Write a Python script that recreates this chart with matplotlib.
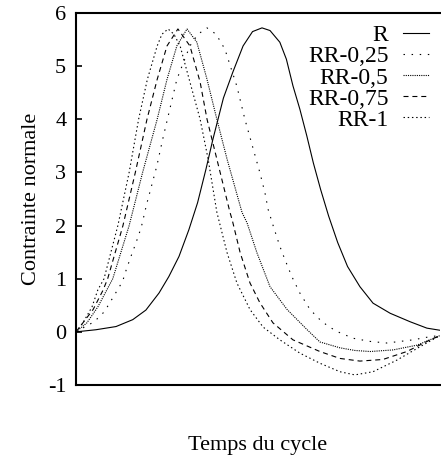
import matplotlib
matplotlib.use("Agg")
import matplotlib.pyplot as plt

plt.rcParams['font.family'] = ['Liberation Serif', 'DejaVu Serif']
plt.rcParams['axes.unicode_minus'] = False

# courbes (temps du cycle normalise 0..1)
x_r = [0, 0.055, 0.110, 0.156, 0.192, 0.228, 0.255, 0.283, 0.310, 0.334, 0.357, 0.376,
       0.405, 0.431, 0.459, 0.485, 0.511, 0.533, 0.56, 0.578, 0.596, 0.615, 0.634, 0.652,
       0.672, 0.694, 0.719, 0.746, 0.78, 0.816, 0.863, 0.918, 0.964, 1.0]
y_r = [0, 0.04, 0.10, 0.23, 0.41, 0.73, 1.04, 1.42, 1.92, 2.43, 3.06, 3.62,
       4.40, 4.89, 5.38, 5.65, 5.72, 5.67, 5.45, 5.13, 4.63, 4.19, 3.69, 3.18,
       2.68, 2.18, 1.68, 1.23, 0.85, 0.54, 0.35, 0.19, 0.07, 0.03]

x_rr025 = [0, 0.018, 0.050, 0.078, 0.101, 0.128, 0.139, 0.151, 0.165, 0.179, 0.194, 0.203,
           0.222, 0.238, 0.277, 0.313, 0.335, 0.360, 0.385, 0.409, 0.442, 0.464, 0.505,
           0.519, 0.528, 0.542, 0.560, 0.574, 0.593, 0.615, 0.643, 0.670, 0.690, 0.716,
           0.761, 0.808, 0.854, 0.926, 0.973, 1.0]
y_rr025 = [0, 0.07, 0.19, 0.38, 0.64, 0.95, 1.19, 1.42, 1.68, 1.96, 2.40, 2.63,
           3.12, 3.62, 4.75, 5.38, 5.6, 5.72, 5.6, 5.32, 4.62, 4.0, 3.0,
           2.62, 2.3, 1.99, 1.61, 1.36, 1.04, 0.73, 0.42, 0.23, 0.12, 0.01,
           -0.12, -0.18, -0.21, -0.15, -0.09, -0.07]

x_rr05 = [0, 0.030, 0.060, 0.101, 0.146, 0.183, 0.223, 0.250, 0.277, 0.305, 0.332,
          0.360, 0.387, 0.415, 0.456, 0.470, 0.497, 0.533, 0.580, 0.635, 0.670, 0.725,
          0.766, 0.808, 0.871, 0.937, 1.0]
y_rr05 = [0, 0.17, 0.47, 1.0, 2.0, 3.0, 4.0, 4.75, 5.38, 5.70, 5.45,
          4.75, 4.0, 3.25, 2.25, 2.05, 1.49, 0.85, 0.42, 0.04, -0.19, -0.30,
          -0.35, -0.37, -0.34, -0.25, -0.07]

x_rr075 = [0, 0.019, 0.047, 0.074, 0.087, 0.129, 0.163, 0.195, 0.223, 0.250, 0.280, 0.313,
           0.341, 0.360, 0.387, 0.423, 0.429, 0.451, 0.478, 0.505, 0.541, 0.596, 0.670,
           0.725, 0.780, 0.843, 0.909, 0.973, 1.0]
y_rr075 = [0, 0.17, 0.42, 0.78, 1.0, 2.0, 3.0, 4.0, 4.75, 5.38, 5.70, 5.38,
           4.7, 4.0, 3.25, 2.25, 2.11, 1.49, 0.92, 0.55, 0.17, -0.15, -0.37,
           -0.50, -0.55, -0.52, -0.37, -0.15, -0.07]

x_rr1 = [0, 0.019, 0.044, 0.060, 0.077, 0.115, 0.146, 0.172, 0.196, 0.223,
         0.236, 0.253, 0.269, 0.286, 0.313, 0.341, 0.363, 0.387, 0.415, 0.442, 0.478,
         0.514, 0.560, 0.615, 0.670, 0.725, 0.766, 0.816, 0.882, 0.945, 1.0]
y_rr1 = [0, 0.17, 0.47, 0.79, 1.0, 2.0, 3.0, 4.0, 4.75, 5.38,
         5.6, 5.70, 5.6, 5.38, 4.7, 4.0, 3.25, 2.25, 1.49, 0.92, 0.42,
         0.09, -0.15, -0.40, -0.59, -0.75, -0.81, -0.75, -0.53, -0.28, -0.07]

labels = ['R', 'RR-0,25', 'RR-0,5', 'RR-0,75', 'RR-1']
y_ticks = [-1, 0, 1, 2, 3, 4, 5, 6]

fig = plt.figure(figsize=(4.41, 4.62), dpi=100)
ax = fig.add_axes([76 / 441, 77 / 462, 364 / 441, 372 / 462])

lw = 0.8
ax.plot(x_r, y_r, color='black', lw=lw, label=labels[0])
ax.plot(x_rr025, y_rr025, color='black', lw=lw, linestyle=(0, (1.3, 6)), label=labels[1])
ax.plot(x_rr05, y_rr05, color='black', lw=lw, linestyle=(0, (1, 1)), label=labels[2])
ax.plot(x_rr075, y_rr075, color='black', lw=lw, linestyle=(0, (4.5, 3.5)), label=labels[3])
ax.plot(x_rr1, y_rr1, color='black', lw=lw, linestyle=(0, (1.3, 2.5)), label=labels[4])

ax.set_xlim(0, 1)
ax.set_ylim(-1, 6)
ax.set_xticks([])
ax.set_yticks(y_ticks)
ax.set_yticklabels([str(t) for t in y_ticks])
ax.tick_params(axis='y', direction='in', length=4.3, width=1.2, labelsize=16, pad=7)

for side in ['left', 'bottom', 'top']:
    ax.spines[side].set_linewidth(1.5)
ax.spines['right'].set_visible(False)

ax.set_ylabel('Contrainte normale', fontsize=16, labelpad=5)
ax.set_xlabel('Temps du cycle', fontsize=16, labelpad=37)

ax.legend(loc='upper right', bbox_to_anchor=(0.969, 0.968), frameon=False, fontsize=17,
          markerfirst=False, handlelength=1.1, handletextpad=0.6, labelspacing=-0.02,
          borderaxespad=0, borderpad=0)

fig.savefig('out.png', dpi=100)
